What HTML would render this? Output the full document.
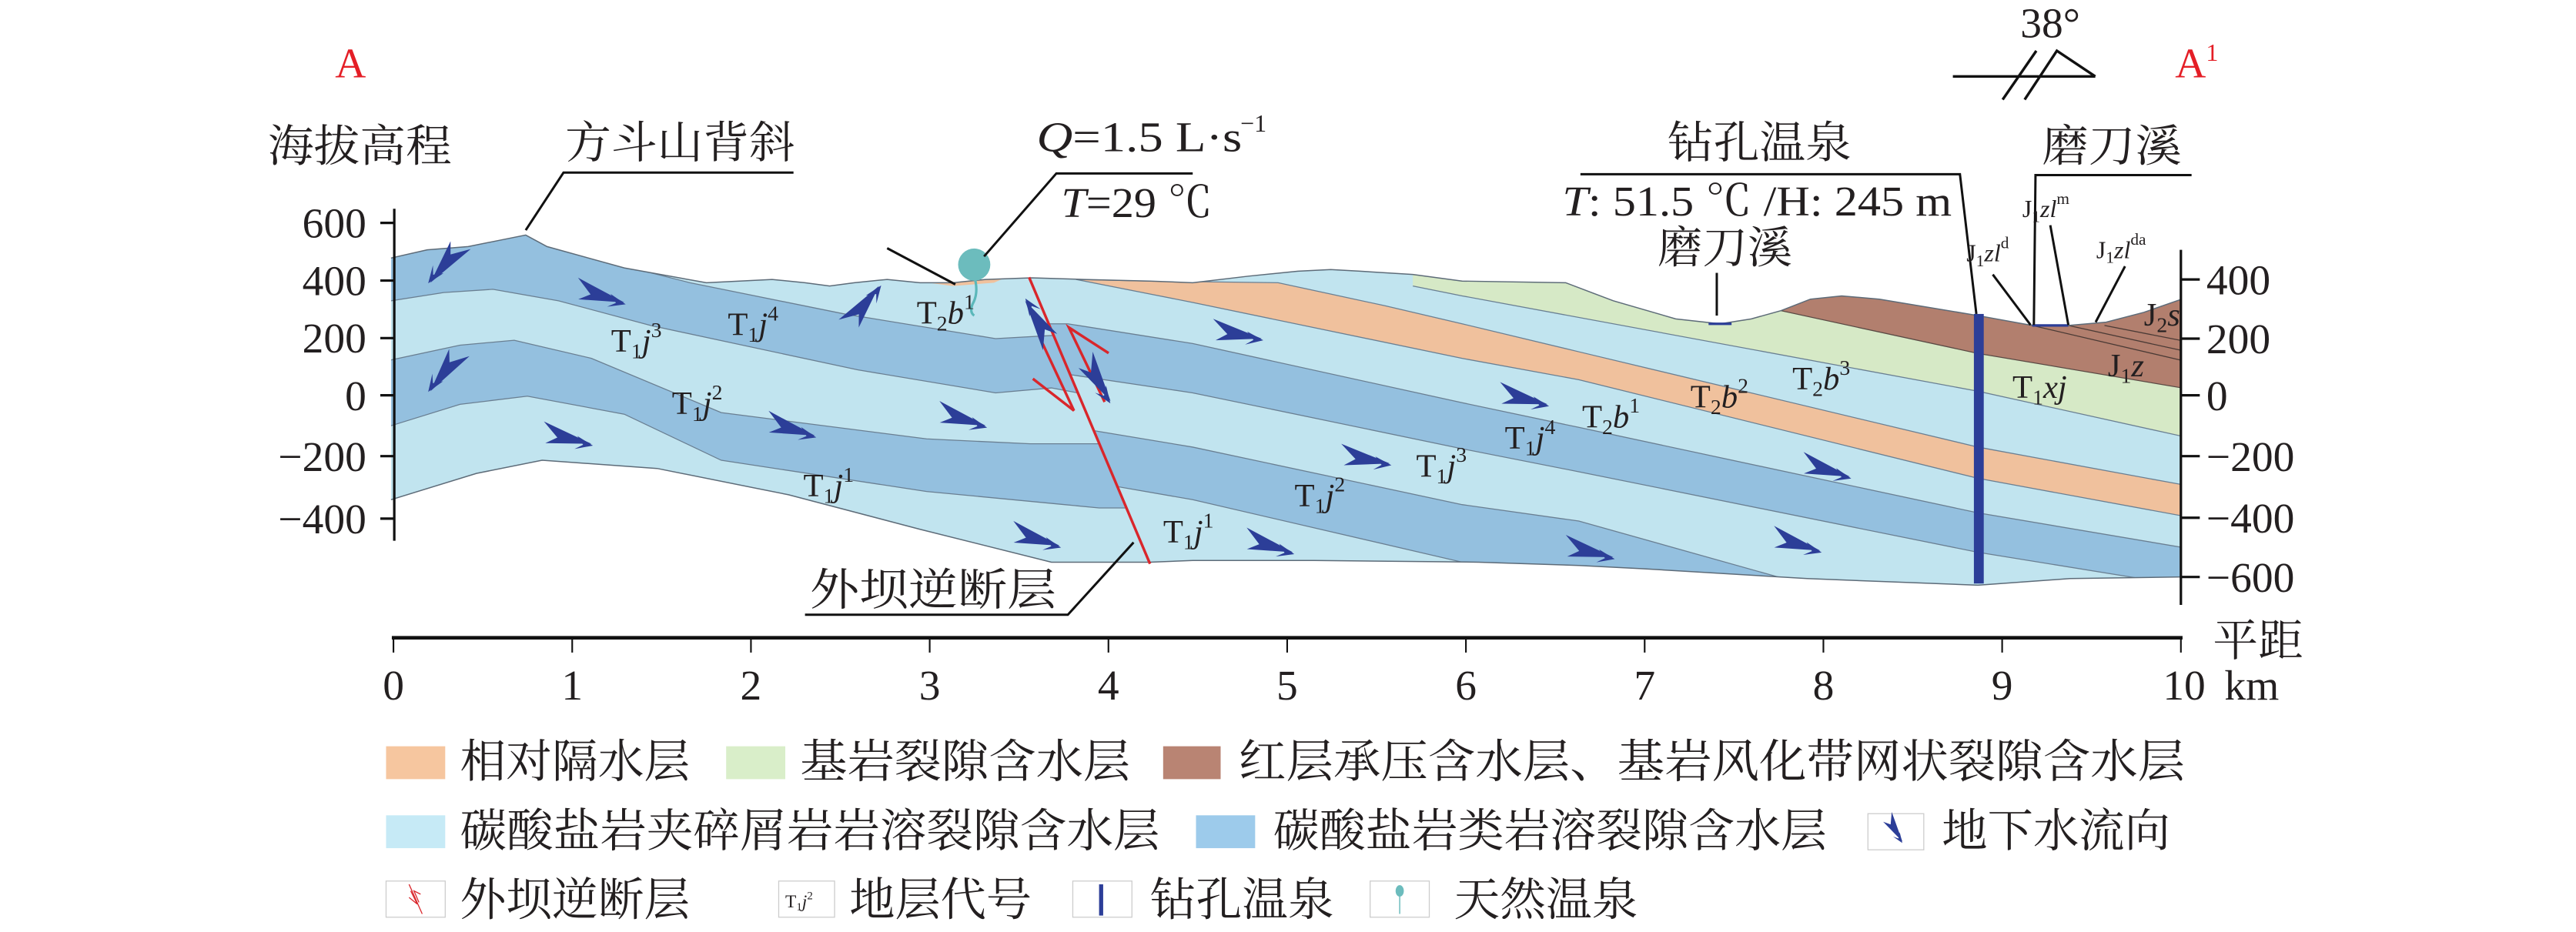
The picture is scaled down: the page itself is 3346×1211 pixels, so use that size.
<!DOCTYPE html>
<html><head><meta charset="utf-8"><style>
html,body{margin:0;padding:0;background:#fff;}
svg{display:block;}
text{font-family:"Liberation Serif","Noto Serif CJK SC",serif;fill:#231f20;}
.cn{font-family:"Liberation Serif","Noto Serif CJK SC",serif;}
.lbl{font-size:20px;}
</style></head><body>
<svg width="3346" height="1211" viewBox="0 0 1568 567" preserveAspectRatio="none" xmlns="http://www.w3.org/2000/svg">
<defs>
<clipPath id="sec"><path d="M238,157 L260,152 L285,150 L305,146 L320,143 L333,150 L380,163 L430,172 L470,170 L490,172 L505,174 L520,172 L540,170 L560,172 L580,172 L600,170 L628,169 L660,170 L700,171 L726,172 L760,168 L790,165 L810,164 L828,165 L860,167 L890,171 L953,172 L982,183 L1020,194 L1047,197 L1066,194 L1084,189 L1102,182 L1121,180 L1144,182 L1204,192 L1237,198 L1259,198 L1282,196 L1305,190 L1328,182 L1328,351 L1260,352 L1204,356 L1100,352 L1000,346 L961,344 L900,342 L800,341 L726,341 L700,342 L640,342 L560,322 L480,301 L400,285 L330,280 L290,288 L238,304 Z"/></clipPath>
<g id="arr"><path d="M0,0 L-30,-11 L-21,-2 L-28,2 Z" fill="#2c3e98"/><path d="M1,1 L-9,-4 L-5,1 L-10,4 Z" fill="#2c3e98"/></g>
</defs>

<g clip-path="url(#sec)">
<rect x="230" y="120" width="1110" height="250" fill="#c1e4ef"/>
<path d="M225,110 L333,110 L333,150 L420,172 L514,191 L606,206 L642,204 L656,239 L640,236 L606,239 L522,225 L396,198 L340,183 L300,176 L270,178 L238,183 L225,183 Z" fill="#94c0df" stroke="#6a7f92" stroke-width="0.6"/>
<path d="M225,219 L238,219 L280,210 L313,207 L360,218 L439,251 L564,267 L627,270 L669,270 L686,309 L669,309 L648,307 L564,299 L439,280 L380,252 L321,241 L280,246 L238,259 L225,259 Z" fill="#94c0df" stroke="#6a7f92" stroke-width="0.6"/>
<path d="M638,197 L650,197 L726,209 L890,245 L961,260 L1204,312 L1340,335 L1340,358 L1204,336 L961,287 L890,273 L726,239 L652,228 Z" fill="#94c0df" stroke="#6a7f92" stroke-width="0.6"/>
<path d="M666,262 L726,272 L890,307 L961,317 L1150,370 L960,370 L890,342 L726,304 L680,296 Z" fill="#94c0df" stroke="#6a7f92" stroke-width="0.6"/>
<path d="M655,170 L700,171 L778,172 L843,186 L890,197 L961,214 L1204,272 L1340,297 L1340,316 L1204,291 L961,231 L890,218 L726,184 L655,170 Z" fill="#f0c19d" stroke="#6a7f92" stroke-width="0.6"/>
<path d="M565,172 L590,168 L614,168 L605,172 L580,174 Z" fill="#f0c19d"/>
<path d="M860,150 L1340,150 L1340,268 L1204,238 L890,180 L860,174 Z" fill="#d6e9c6"/>
<path d="M860,174 L890,180 L1204,238 L1340,268" fill="none" stroke="#6a7f92" stroke-width="0.6"/>
<path d="M1084,150 L1340,150 L1340,238 L1204,215 L1084,189 Z" fill="#b27f6e" stroke="#5a4a44" stroke-width="0.6"/>
<g stroke="#4a3a35" stroke-width="0.6" fill="none">
<path d="M1237,198 L1327,219"/><path d="M1259,198 L1327,213"/><path d="M1281,198 L1327,207"/>
</g>
</g>
<path d="M238,157 L260,152 L285,150 L305,146 L320,143 L333,150 L380,163 L430,172 L470,170 L490,172 L505,174 L520,172 L540,170 L560,172 L580,172 L600,170 L628,169 L660,170 L700,171 L726,172 L760,168 L790,165 L810,164 L828,165 L860,167 L890,171 L953,172 L982,183 L1020,194 L1047,197 L1066,194 L1084,189 L1102,182 L1121,180 L1144,182 L1204,192 L1237,198 L1259,198 L1282,196 L1305,190 L1328,182 M1328,351 L1260,352 L1204,356 L1100,352 L1000,346 L961,344 L900,342 L800,341 L726,341 L700,342 L640,342 L560,322 L480,301 L400,285 L330,280 L290,288 L238,304" fill="none" stroke="#5d6b78" stroke-width="0.7"/>
<line x1="1040" y1="197" x2="1054" y2="197" stroke="#2c3e98" stroke-width="1.5"/>
<line x1="1237" y1="198" x2="1259" y2="198" stroke="#2c3e98" stroke-width="1.5"/>

<g stroke="#d9262b" stroke-width="1.6" fill="none">
<line x1="626.4" y1="168.7" x2="700" y2="343"/>
<polyline points="632.6,204.7 653.7,249.8 628.7,230.4"/>
<polyline points="672.4,244.5 650.6,199.2 674.8,214.8"/>
</g>

<use href="#arr" transform="translate(262,172) rotate(120)"/>
<use href="#arr" transform="translate(262,238) rotate(118)"/>
<use href="#arr" transform="translate(380,184) rotate(8)"/>
<use href="#arr" transform="translate(535,174) rotate(-60)"/>
<use href="#arr" transform="translate(360,270) rotate(5)"/>
<use href="#arr" transform="translate(496,265) rotate(8)"/>
<use href="#arr" transform="translate(600,259) rotate(8)"/>
<use href="#arr" transform="translate(645,332) rotate(8)"/>
<use href="#arr" transform="translate(787,336) rotate(8)"/>
<use href="#arr" transform="translate(624,183) rotate(-130)"/>
<use href="#arr" transform="translate(676,244) rotate(50)"/>
<use href="#arr" transform="translate(768,206) rotate(2)"/>
<use href="#arr" transform="translate(846,282) rotate(2)"/>
<use href="#arr" transform="translate(942,246) rotate(5)"/>
<use href="#arr" transform="translate(1126,290) rotate(8)"/>
<use href="#arr" transform="translate(982,339) rotate(5)"/>
<use href="#arr" transform="translate(1108,335) rotate(8)"/>

<rect x="1201.5" y="191" width="6" height="164" fill="#2c3e98"/>

<line x1="540" y1="151" x2="581.5" y2="173" stroke="#111" stroke-width="1.4"/>
<path d="M593,168 Q596,178 592,185 Q590,190 593,192" stroke="#5bb8ba" stroke-width="1.5" fill="none"/>
<ellipse cx="593" cy="161" rx="9.8" ry="9.8" fill="#6cbcbd"/>
<polyline points="599,156 643,105.5 726,105.5" fill="none" stroke="#111" stroke-width="1.4"/>

<g stroke="#111" stroke-width="1.4" fill="none">
<polyline points="320,140 343,105 483,105"/>
<polyline points="962,106 1193,106 1203,191"/>
<line x1="1045" y1="166" x2="1045" y2="192"/>
<polyline points="1238,197.7 1239,106.5 1334,106.5"/>
<line x1="1213" y1="167" x2="1236" y2="197.7"/>
<line x1="1248" y1="137" x2="1259" y2="197.7"/>
<line x1="1293.5" y1="162" x2="1275.6" y2="196"/>
<polyline points="490,374 650,374 690,330"/>
</g>

<g stroke="#111" stroke-width="1.6" fill="none">
<line x1="1188.7" y1="46.5" x2="1275.4" y2="46.5"/>
<polyline points="1232.4,60.6 1252,30.9 1275.4,46.5"/>
<line x1="1239.5" y1="30.9" x2="1219" y2="60.6"/>
</g>
<text x="1248" y="22.6" font-size="26" text-anchor="middle">38°</text>
<text x="204" y="47" font-size="26" style="fill:#e41e26">A</text>
<text x="1324" y="47" font-size="26" style="fill:#e41e26">A<tspan font-size="15" dy="-10">1</tspan></text>

<text class="cn" x="163" y="98" font-size="27" textLength="112" lengthAdjust="spacingAndGlyphs">海拔高程</text>
<text class="cn" x="344" y="96" font-size="27" textLength="140" lengthAdjust="spacingAndGlyphs">方斗山背斜</text>
<text x="631" y="92" font-size="26" textLength="125" lengthAdjust="spacingAndGlyphs"><tspan font-style="italic">Q</tspan>=1.5 L·s</text>
<text x="755" y="80" font-size="15">−1</text>
<text x="646" y="132" font-size="26" textLength="92" lengthAdjust="spacingAndGlyphs"><tspan font-style="italic">T</tspan>=29 ℃</text>
<text class="cn" x="1015" y="96" font-size="27" textLength="112" lengthAdjust="spacingAndGlyphs">钻孔温泉</text>
<text x="951" y="131" font-size="26" textLength="237" lengthAdjust="spacingAndGlyphs"><tspan font-style="italic">T</tspan>: 51.5 ℃ /H: 245 m</text>
<text class="cn" x="1009" y="160" font-size="27" textLength="82" lengthAdjust="spacingAndGlyphs">磨刀溪</text>
<text class="cn" x="1243" y="98" font-size="27" textLength="85" lengthAdjust="spacingAndGlyphs">磨刀溪</text>
<text class="cn" x="493" y="368" font-size="27" textLength="150" lengthAdjust="spacingAndGlyphs">外坝逆断层</text>

<g class="lbl">
<text x="372" y="214">T<tspan font-size="13" dy="4">1</tspan><tspan font-style="italic" dy="-4">j</tspan><tspan font-size="13" dy="-9">3</tspan></text>
<text x="443" y="204">T<tspan font-size="13" dy="4">1</tspan><tspan font-style="italic" dy="-4">j</tspan><tspan font-size="13" dy="-9">4</tspan></text>
<text x="558" y="197">T<tspan font-size="13" dy="4">2</tspan><tspan font-style="italic" dy="-4">b</tspan><tspan font-size="13" dy="-9">1</tspan></text>
<text x="409" y="252">T<tspan font-size="13" dy="4">1</tspan><tspan font-style="italic" dy="-4">j</tspan><tspan font-size="13" dy="-9">2</tspan></text>
<text x="489" y="302">T<tspan font-size="13" dy="4">1</tspan><tspan font-style="italic" dy="-4">j</tspan><tspan font-size="13" dy="-9">1</tspan></text>
<text x="708" y="330">T<tspan font-size="13" dy="4">1</tspan><tspan font-style="italic" dy="-4">j</tspan><tspan font-size="13" dy="-9">1</tspan></text>
<text x="788" y="308">T<tspan font-size="13" dy="4">1</tspan><tspan font-style="italic" dy="-4">j</tspan><tspan font-size="13" dy="-9">2</tspan></text>
<text x="862" y="290">T<tspan font-size="13" dy="4">1</tspan><tspan font-style="italic" dy="-4">j</tspan><tspan font-size="13" dy="-9">3</tspan></text>
<text x="916" y="273">T<tspan font-size="13" dy="4">1</tspan><tspan font-style="italic" dy="-4">j</tspan><tspan font-size="13" dy="-9">4</tspan></text>
<text x="963" y="260">T<tspan font-size="13" dy="4">2</tspan><tspan font-style="italic" dy="-4">b</tspan><tspan font-size="13" dy="-9">1</tspan></text>
<text x="1029" y="248">T<tspan font-size="13" dy="4">2</tspan><tspan font-style="italic" dy="-4">b</tspan><tspan font-size="13" dy="-9">2</tspan></text>
<text x="1091" y="237">T<tspan font-size="13" dy="4">2</tspan><tspan font-style="italic" dy="-4">b</tspan><tspan font-size="13" dy="-9">3</tspan></text>
<text x="1225" y="242">T<tspan font-size="13" dy="4">1</tspan><tspan font-style="italic" dy="-4">xj</tspan></text>
<text x="1283" y="229">J<tspan font-size="13" dy="4">1</tspan><tspan font-style="italic" dy="-4">z</tspan></text>
<text x="1305" y="198">J<tspan font-size="13" dy="4">2</tspan><tspan font-style="italic" dy="-4">s</tspan></text>
</g>
<g font-size="15">
<text x="1197" y="159">J<tspan font-size="10" dy="3">1</tspan><tspan font-style="italic" dy="-3">zl</tspan><tspan font-size="10" dy="-8">d</tspan></text>
<text x="1231" y="132">J<tspan font-size="10" dy="3">1</tspan><tspan font-style="italic" dy="-3">zl</tspan><tspan font-size="10" dy="-8">m</tspan></text>
<text x="1276" y="157">J<tspan font-size="10" dy="3">1</tspan><tspan font-style="italic" dy="-3">zl</tspan><tspan font-size="10" dy="-8">da</tspan></text>
</g>

<g stroke="#111" stroke-width="1.5" fill="none">
<line x1="240" y1="127" x2="240" y2="329"/>
<line x1="231.5" y1="135.6" x2="240" y2="135.6"/>
<line x1="231.5" y1="170.7" x2="240" y2="170.7"/>
<line x1="231.5" y1="205.7" x2="240" y2="205.7"/>
<line x1="231.5" y1="240.5" x2="240" y2="240.5"/>
<line x1="231.5" y1="277.5" x2="240" y2="277.5"/>
<line x1="231.5" y1="315.5" x2="240" y2="315.5"/>
<line x1="1327.5" y1="152" x2="1327.5" y2="368"/>
<line x1="1327.5" y1="170" x2="1339" y2="170"/>
<line x1="1327.5" y1="206" x2="1339" y2="206"/>
<line x1="1327.5" y1="240.5" x2="1339" y2="240.5"/>
<line x1="1327.5" y1="277.5" x2="1339" y2="277.5"/>
<line x1="1327.5" y1="315" x2="1339" y2="315"/>
<line x1="1327.5" y1="351" x2="1339" y2="351"/>
</g>
<g font-size="26" text-anchor="end">
<text x="223" y="144.5">600</text><text x="223" y="179.5">400</text><text x="223" y="214.5">200</text>
<text x="223" y="249.5">0</text><text x="223" y="286.5">−200</text><text x="223" y="324.5">−400</text>
</g>
<g font-size="26">
<text x="1343" y="179">400</text><text x="1343" y="215">200</text><text x="1343" y="249.5">0</text>
<text x="1343" y="286.5">−200</text><text x="1343" y="324">−400</text><text x="1343" y="360">−600</text>
</g>
<line x1="238.5" y1="388" x2="1328.5" y2="388" stroke="#111" stroke-width="2.2"/>
<g stroke="#111" stroke-width="1">
<line x1="239.5" y1="388" x2="239.5" y2="397"/><line x1="348.3" y1="388" x2="348.3" y2="397"/>
<line x1="457.1" y1="388" x2="457.1" y2="397"/><line x1="565.9" y1="388" x2="565.9" y2="397"/>
<line x1="674.7" y1="388" x2="674.7" y2="397"/><line x1="783.5" y1="388" x2="783.5" y2="397"/>
<line x1="892.3" y1="388" x2="892.3" y2="397"/><line x1="1001.1" y1="388" x2="1001.1" y2="397"/>
<line x1="1109.9" y1="388" x2="1109.9" y2="397"/><line x1="1218.7" y1="388" x2="1218.7" y2="397"/>
<line x1="1327.5" y1="388" x2="1327.5" y2="397"/>
</g>
<g font-size="26" text-anchor="middle">
<text x="239.5" y="425.5">0</text><text x="348.3" y="425.5">1</text><text x="457.1" y="425.5">2</text>
<text x="565.9" y="425.5">3</text><text x="674.7" y="425.5">4</text><text x="783.5" y="425.5">5</text>
<text x="892.3" y="425.5">6</text><text x="1001.1" y="425.5">7</text><text x="1109.9" y="425.5">8</text>
<text x="1218.7" y="425.5">9</text><text x="1329.5" y="425.5">10</text>
</g>
<text x="1354" y="425.5" font-size="26">km</text>
<text class="cn" x="1347" y="399" font-size="27" textLength="55" lengthAdjust="spacingAndGlyphs">平距</text>

<g font-size="28" class="cn">
<rect x="235" y="454" width="36" height="20" fill="#f6c69f"/>
<text x="280" y="473" textLength="140" lengthAdjust="spacingAndGlyphs">相对隔水层</text>
<rect x="442" y="454" width="36" height="20" fill="#d9eec9"/>
<text x="487" y="473" textLength="201" lengthAdjust="spacingAndGlyphs">基岩裂隙含水层</text>
<rect x="708" y="454" width="35" height="20" fill="#b98473"/>
<text x="754" y="473" textLength="576" lengthAdjust="spacingAndGlyphs">红层承压含水层、基岩风化带网状裂隙含水层</text>

<rect x="235" y="496" width="36" height="20" fill="#c6eaf6"/>
<text x="280" y="515" textLength="426" lengthAdjust="spacingAndGlyphs">碳酸盐岩夹碎屑岩岩溶裂隙含水层</text>
<rect x="728" y="496" width="36" height="20" fill="#9dcbeb"/>
<text x="775" y="515" textLength="337" lengthAdjust="spacingAndGlyphs">碳酸盐岩类岩溶裂隙含水层</text>
<rect x="1137" y="495" width="34" height="22" fill="none" stroke="#ccc" stroke-width="0.6"/>
<use href="#arr" transform="translate(1158,512) scale(0.6) rotate(50)"/>
<text x="1182" y="515" textLength="139" lengthAdjust="spacingAndGlyphs">地下水流向</text>

<rect x="235" y="536" width="36" height="22" fill="none" stroke="#ccc" stroke-width="0.6"/>
<g stroke="#d9262b" stroke-width="0.6" fill="none"><line x1="249" y1="538" x2="257" y2="556"/><polyline points="250,542 254,550 249,546"/><polyline points="255,549 252,542 256,544"/></g>
<text x="280" y="557" textLength="140" lengthAdjust="spacingAndGlyphs">外坝逆断层</text>
<rect x="474" y="536" width="34" height="22" fill="none" stroke="#ccc" stroke-width="0.6"/>
<text x="478" y="552" font-size="11">T<tspan font-size="7" dy="2">1</tspan><tspan font-style="italic" dy="-2">j</tspan><tspan font-size="7" dy="-5">2</tspan></text>
<text x="517" y="557" textLength="111" lengthAdjust="spacingAndGlyphs">地层代号</text>
<rect x="653" y="536" width="36" height="22" fill="none" stroke="#ccc" stroke-width="0.6"/>
<rect x="669" y="538" width="2.5" height="19" fill="#2c3e98"/>
<text x="700" y="557" textLength="112" lengthAdjust="spacingAndGlyphs">钻孔温泉</text>
<rect x="834" y="536" width="36" height="22" fill="none" stroke="#ccc" stroke-width="0.6"/>
<ellipse cx="852" cy="542" rx="2.5" ry="3.5" fill="#6cbcbd"/><line x1="852" y1="545" x2="852" y2="556" stroke="#6cbcbd" stroke-width="0.7"/>
<text x="885" y="557" textLength="112" lengthAdjust="spacingAndGlyphs">天然温泉</text>
</g>
</svg>
</body></html>
